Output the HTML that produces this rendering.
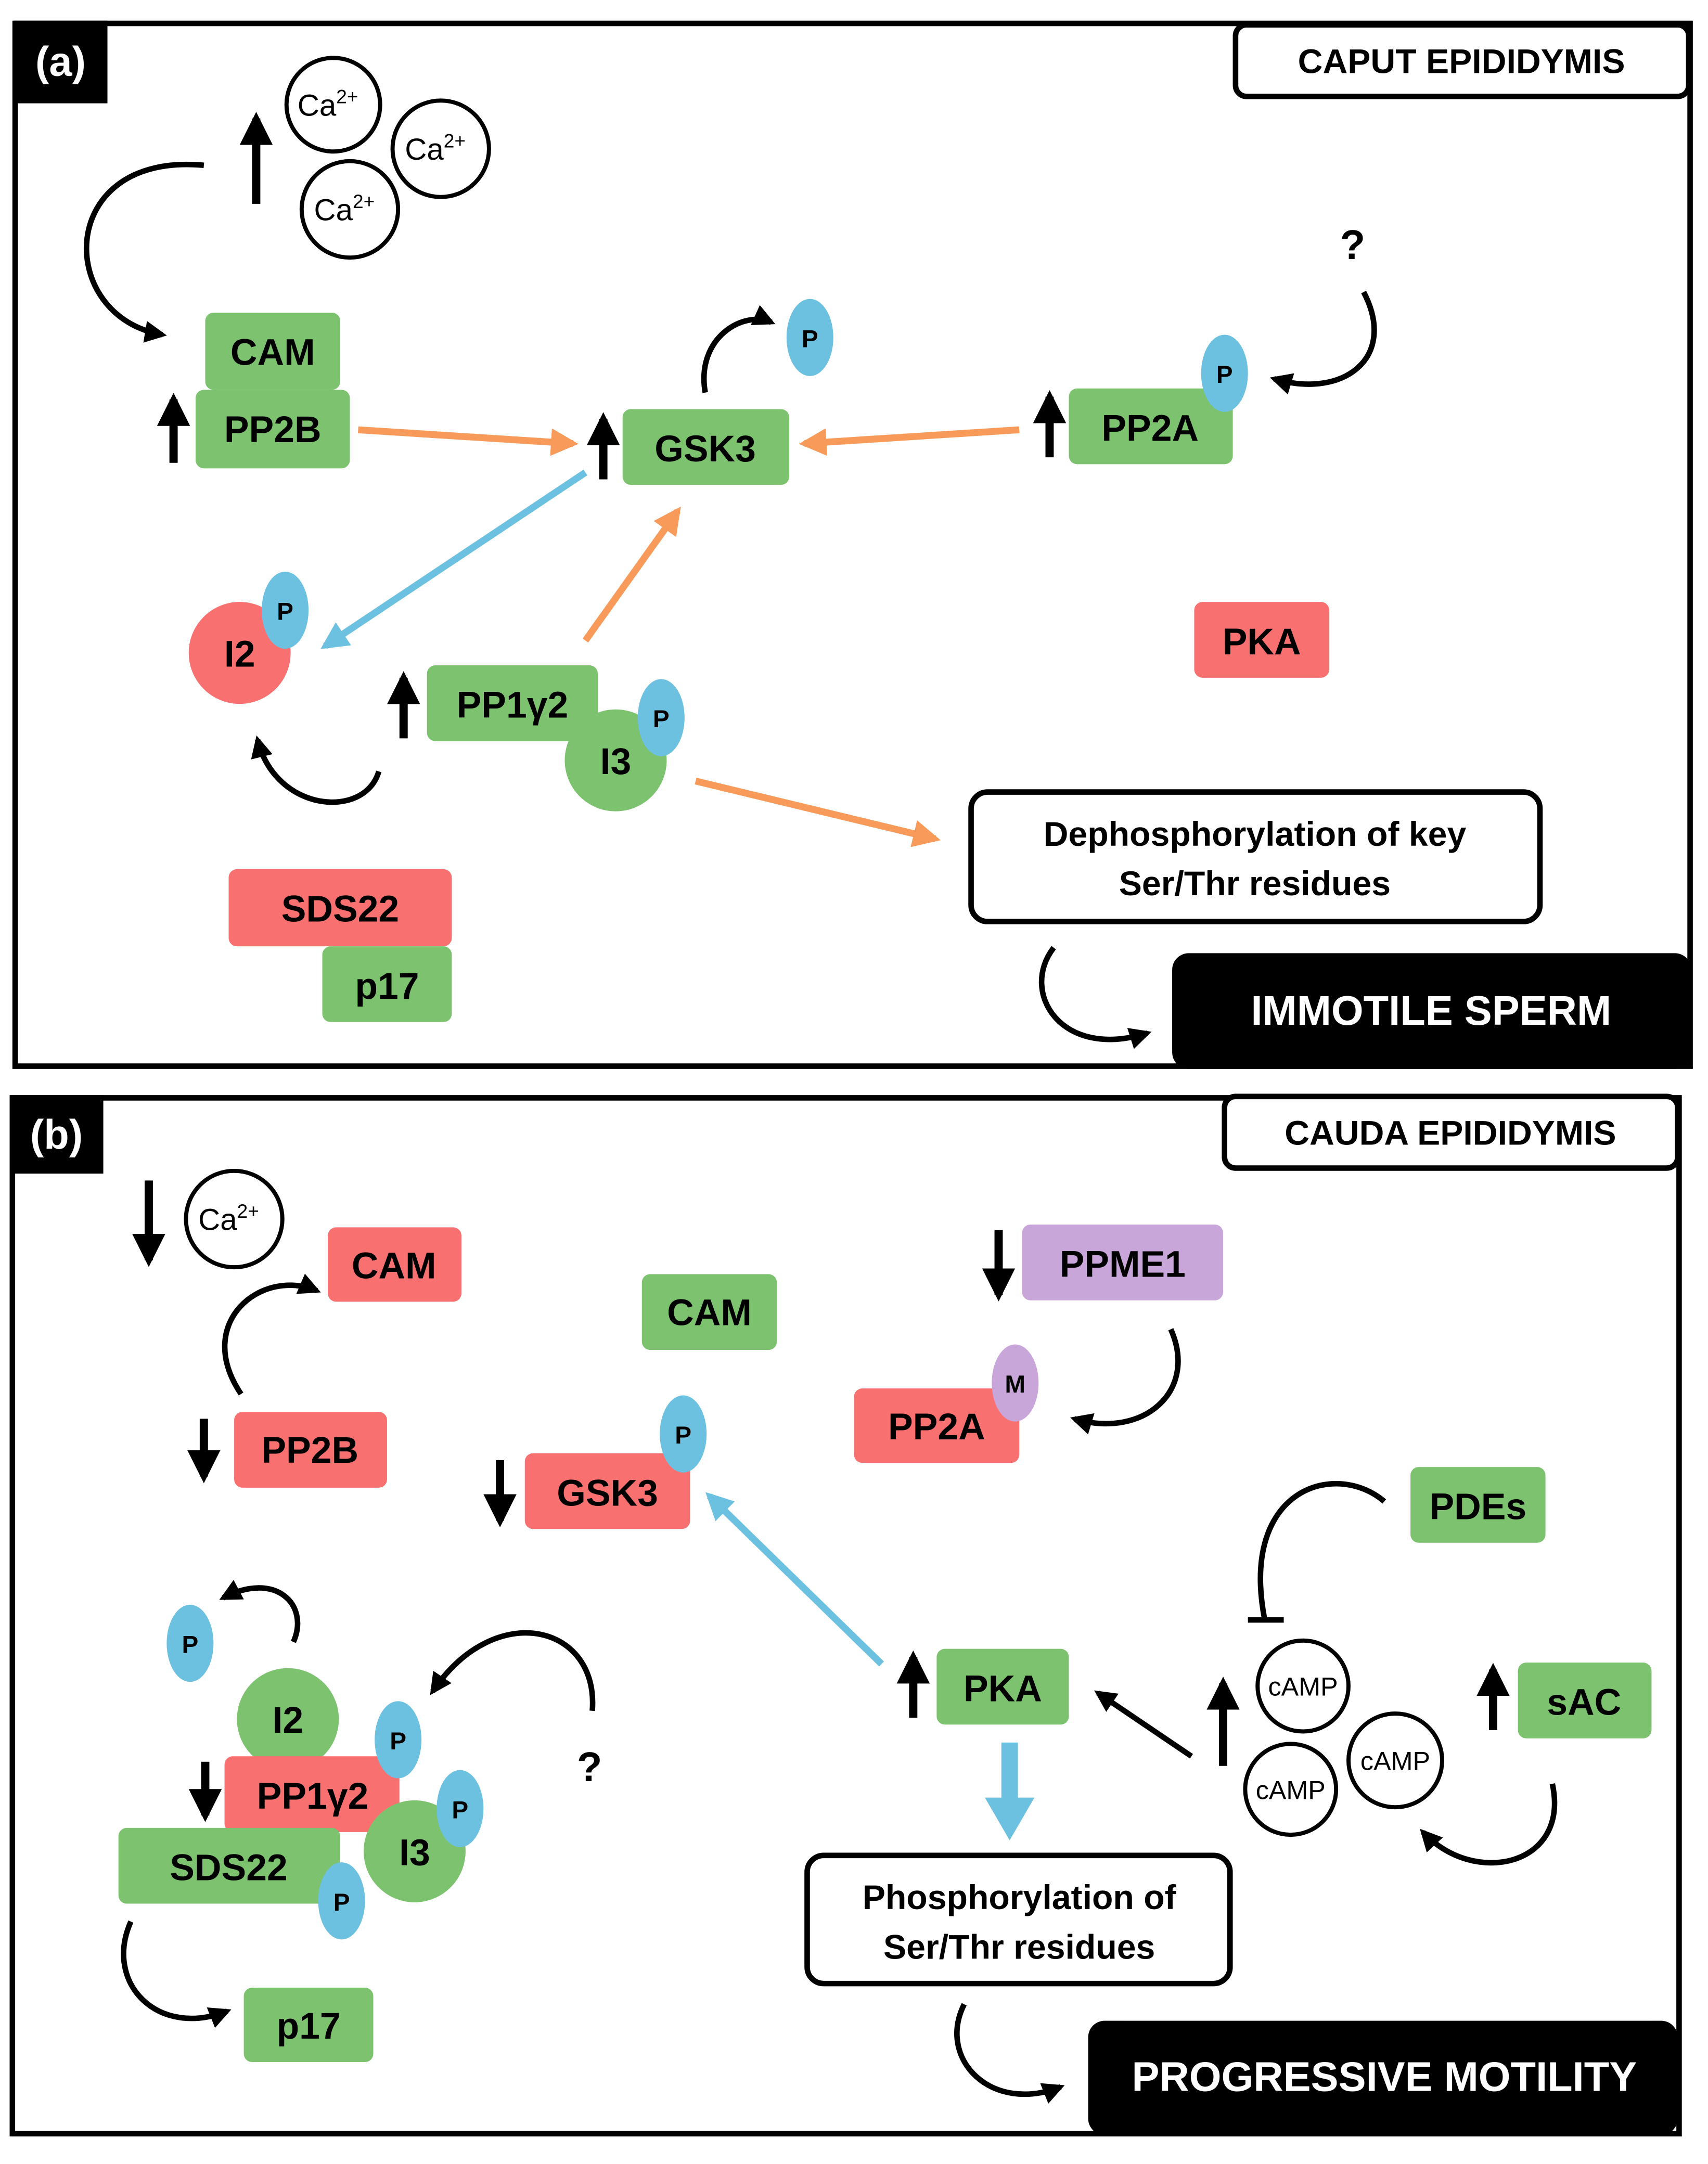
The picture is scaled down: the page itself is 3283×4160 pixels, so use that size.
<!DOCTYPE html>
<html><head><meta charset="utf-8"><style>
html,body{margin:0;padding:0;background:#fff}
svg{display:block}
text{font-family:"Liberation Sans",sans-serif;font-weight:bold}
</style></head><body>
<svg width="3283" height="4160" viewBox="0 0 1240 1571" preserveAspectRatio="none" xmlns="http://www.w3.org/2000/svg">
<defs>
<marker id="ab" viewBox="0 0 10 10" refX="8" refY="5" markerWidth="4" markerHeight="4" orient="auto"><path d="M0,0L10,5L0,10z" fill="#000"/></marker>
<marker id="ao" viewBox="0 0 10 10" refX="8" refY="5" markerWidth="4" markerHeight="4" orient="auto"><path d="M0,0L10,5L0,10z" fill="#f79a5a"/></marker>
<marker id="abl" viewBox="0 0 10 10" refX="8" refY="5" markerWidth="4" markerHeight="4" orient="auto"><path d="M0,0L10,5L0,10z" fill="#6cc0e0"/></marker>
</defs>
<g fill="none" stroke="#000" stroke-width="4">
<rect x="11" y="17" width="1216" height="757"/>
<rect x="9" y="797" width="1210" height="752"/>
</g>
<rect x="10" y="15" width="68" height="60" fill="#000"/><text x="44" y="55" font-size="30" fill="#fff" text-anchor="middle">(a)</text>
<rect x="8" y="795" width="67" height="57" fill="#000"/><text x="41" y="834" font-size="30" fill="#fff" text-anchor="middle">(b)</text>
<rect x="897" y="18" width="329" height="52" rx="8" fill="#fff" stroke="#000" stroke-width="4"/><text x="1061" y="53" font-size="25" text-anchor="middle">CAPUT EPIDIDYMIS</text>
<rect x="889" y="796" width="329" height="52" rx="8" fill="#fff" stroke="#000" stroke-width="4"/><text x="1053" y="831" font-size="25" text-anchor="middle">CAUDA EPIDIDYMIS</text>

<g fill="#fff" stroke="#000" stroke-width="3">
<circle cx="242" cy="76" r="34"/><circle cx="320" cy="108" r="35"/><circle cx="254" cy="152" r="35"/>
<circle cx="170" cy="885" r="35"/>
<circle cx="946" cy="1224" r="33"/><circle cx="1013" cy="1278" r="34"/><circle cx="937" cy="1299" r="33"/>
</g>
<g font-size="22" text-anchor="middle" font-weight="normal">
<text x="238" y="84" style="font-weight:normal">Ca<tspan font-size="14" dy="-9">2+</tspan></text>
<text x="316" y="116" style="font-weight:normal">Ca<tspan font-size="14" dy="-9">2+</tspan></text>
<text x="250" y="160" style="font-weight:normal">Ca<tspan font-size="14" dy="-9">2+</tspan></text>
<text x="166" y="893" style="font-weight:normal">Ca<tspan font-size="14" dy="-9">2+</tspan></text>
<text x="946" y="1231" font-size="19" style="font-weight:normal">cAMP</text>
<text x="1013" y="1285" font-size="19" style="font-weight:normal">cAMP</text>
<text x="937" y="1306" font-size="19" style="font-weight:normal">cAMP</text>
</g>

<!-- nodes -->
<g font-size="27" text-anchor="middle">
<rect x="149" y="227" width="98" height="56" rx="6" fill="#7dc36f"/><text x="198" y="265">CAM</text>
<rect x="142" y="283" width="112" height="57" rx="6" fill="#7dc36f"/><text x="198" y="321">PP2B</text>
<rect x="452" y="297" width="121" height="55" rx="6" fill="#7dc36f"/><text x="512" y="335">GSK3</text>
<rect x="776" y="282" width="119" height="55" rx="6" fill="#7dc36f"/><text x="835" y="320">PP2A</text>
<circle cx="174" cy="474" r="37" fill="#f87070"/><text x="174" y="484">I2</text>
<rect x="310" y="483" width="124" height="55" rx="6" fill="#7dc36f"/><text x="372" y="521">PP1γ2</text>
<circle cx="447" cy="552" r="37" fill="#7dc36f"/><text x="447" y="562">I3</text>
<rect x="867" y="437" width="98" height="55" rx="6" fill="#f87070"/><text x="916" y="475">PKA</text>
<rect x="166" y="631" width="162" height="56" rx="6" fill="#f87070"/><text x="247" y="669">SDS22</text>
<rect x="234" y="687" width="94" height="55" rx="6" fill="#7dc36f"/><text x="281" y="725">p17</text>

<rect x="238" y="891" width="97" height="54" rx="6" fill="#f87070"/><text x="286" y="928">CAM</text>
<rect x="170" y="1025" width="111" height="55" rx="6" fill="#f87070"/><text x="225" y="1062">PP2B</text>
<rect x="466" y="925" width="98" height="55" rx="6" fill="#7dc36f"/><text x="515" y="962">CAM</text>
<rect x="742" y="889" width="146" height="55" rx="6" fill="#c9a6d9"/><text x="815" y="927">PPME1</text>
<rect x="620" y="1008" width="120" height="54" rx="6" fill="#f87070"/><text x="680" y="1045">PP2A</text>
<rect x="381" y="1055" width="120" height="55" rx="6" fill="#f87070"/><text x="441" y="1093">GSK3</text>
<rect x="1024" y="1065" width="98" height="55" rx="6" fill="#7dc36f"/><text x="1073" y="1103">PDEs</text>
<rect x="1102" y="1207" width="97" height="55" rx="6" fill="#7dc36f"/><text x="1150" y="1245">sAC</text>
<rect x="680" y="1197" width="96" height="55" rx="6" fill="#7dc36f"/><text x="728" y="1235">PKA</text>
<circle cx="209" cy="1248" r="37" fill="#7dc36f"/><text x="209" y="1258">I2</text>
<rect x="163" y="1275" width="127" height="55" rx="6" fill="#f87070"/><text x="227" y="1313">PP1γ2</text>
<circle cx="301" cy="1344" r="37" fill="#7dc36f"/><text x="301" y="1354">I3</text>
<rect x="86" y="1327" width="161" height="55" rx="6" fill="#7dc36f"/><text x="166" y="1365">SDS22</text>
<rect x="177" y="1443" width="94" height="54" rx="6" fill="#7dc36f"/><text x="224" y="1480">p17</text>
</g>

<!-- P / M ellipses -->
<g font-size="18" text-anchor="middle">
<ellipse cx="588" cy="245" rx="17" ry="28" fill="#6cc0e0"/><text x="588" y="252">P</text>
<ellipse cx="889" cy="271" rx="17" ry="28" fill="#6cc0e0"/><text x="889" y="278">P</text>
<ellipse cx="207" cy="443" rx="17" ry="28" fill="#6cc0e0"/><text x="207" y="450">P</text>
<ellipse cx="480" cy="521" rx="17" ry="28" fill="#6cc0e0"/><text x="480" y="528">P</text>
<ellipse cx="737" cy="1004" rx="17" ry="28" fill="#c9a6d9"/><text x="737" y="1011">M</text>
<ellipse cx="496" cy="1041" rx="17" ry="28" fill="#6cc0e0"/><text x="496" y="1048">P</text>
<ellipse cx="138" cy="1193" rx="17" ry="28" fill="#6cc0e0"/><text x="138" y="1200">P</text>
<ellipse cx="289" cy="1263" rx="17" ry="28" fill="#6cc0e0"/><text x="289" y="1270">P</text>
<ellipse cx="334" cy="1313" rx="17" ry="28" fill="#6cc0e0"/><text x="334" y="1320">P</text>
<ellipse cx="248" cy="1380" rx="17" ry="28" fill="#6cc0e0"/><text x="248" y="1387">P</text>
</g>

<!-- boxes -->
<rect x="705" y="575" width="413" height="94" rx="12" fill="#fff" stroke="#000" stroke-width="4"/>
<text x="911" y="614" font-size="25" text-anchor="middle">Dephosphorylation of key</text>
<text x="911" y="650" font-size="25" text-anchor="middle">Ser/Thr residues</text>
<rect x="851" y="692" width="377" height="84" rx="12" fill="#000"/>
<text x="1039" y="744" font-size="30" fill="#fff" text-anchor="middle">IMMOTILE SPERM</text>
<rect x="586" y="1347" width="307" height="93" rx="12" fill="#fff" stroke="#000" stroke-width="4"/>
<text x="740" y="1386" font-size="25" text-anchor="middle">Phosphorylation of</text>
<text x="740" y="1422" font-size="25" text-anchor="middle">Ser/Thr residues</text>
<rect x="790" y="1467" width="428" height="83" rx="12" fill="#000"/>
<text x="1005" y="1518" font-size="30" fill="#fff" text-anchor="middle">PROGRESSIVE MOTILITY</text>

<text x="982" y="188" font-size="30" text-anchor="middle">?</text>
<text x="428" y="1293" font-size="30" text-anchor="middle">?</text>

<!-- straight black up/down arrows -->
<g stroke="#000" stroke-width="6" marker-end="url(#ab)">
<line x1="186" y1="148" x2="186" y2="86"/>
<line x1="126" y1="336" x2="126" y2="290"/>
<line x1="438" y1="348" x2="438" y2="304"/>
<line x1="762" y1="332" x2="762" y2="288"/>
<line x1="293" y1="536" x2="293" y2="492"/>
<line x1="108" y1="857" x2="108" y2="915"/>
<line x1="148" y1="1030" x2="148" y2="1072"/>
<line x1="725" y1="893" x2="725" y2="940"/>
<line x1="363" y1="1060" x2="363" y2="1104"/>
<line x1="888" y1="1282" x2="888" y2="1222"/>
<line x1="1084" y1="1256" x2="1084" y2="1212"/>
<line x1="663" y1="1247" x2="663" y2="1203"/>
<line x1="149" y1="1279" x2="149" y2="1318"/>
</g>
<g stroke="#000" stroke-width="4" marker-end="url(#ab)" fill="none">
<line x1="865" y1="1275" x2="797" y2="1229"/>
<path d="M148,120 C40,110 40,230 118,243"/>
<path d="M512,285 C505,245 540,225 560,234"/>
<path d="M990,212 C1015,260 975,290 925,275"/>
<path d="M275,560 C265,595 200,590 187,537"/>
<path d="M765,688 C740,720 770,770 833,750"/>
<path d="M175,1012 C140,960 190,920 230,937"/>
<path d="M850,965 C870,1010 830,1045 780,1030"/>
<path d="M1127,1295 C1140,1355 1070,1370 1033,1330"/>
<path d="M700,1455 C680,1495 720,1535 770,1515"/>
<path d="M213,1192 C225,1165 200,1140 162,1160"/>
<path d="M430,1242 C435,1180 360,1160 314,1228"/>
<path d="M95,1395 C75,1440 115,1480 165,1460"/>
</g>
<!-- inhibition -->
<path d="M1005,1090 C970,1060 900,1080 918,1175" fill="none" stroke="#000" stroke-width="4"/>
<line x1="906" y1="1176" x2="932" y2="1176" stroke="#000" stroke-width="4"/>

<!-- orange arrows -->
<g stroke="#f79a5a" stroke-width="5" marker-end="url(#ao)">
<line x1="260" y1="312" x2="416" y2="322"/>
<line x1="740" y1="312" x2="584" y2="322"/>
<line x1="425" y1="465" x2="492" y2="371"/>
<line x1="505" y1="567" x2="679" y2="609"/>
</g>
<!-- blue arrows -->
<g stroke="#6cc0e0" stroke-width="5" marker-end="url(#abl)">
<line x1="425" y1="343" x2="236" y2="469"/>
<line x1="640" y1="1208" x2="515" y2="1086"/>
</g>
<line x1="733" y1="1265" x2="733" y2="1310" stroke="#6cc0e0" stroke-width="12"/>
<path d="M715,1305 L751,1305 L733,1336z" fill="#6cc0e0"/>
</svg>
</body></html>
